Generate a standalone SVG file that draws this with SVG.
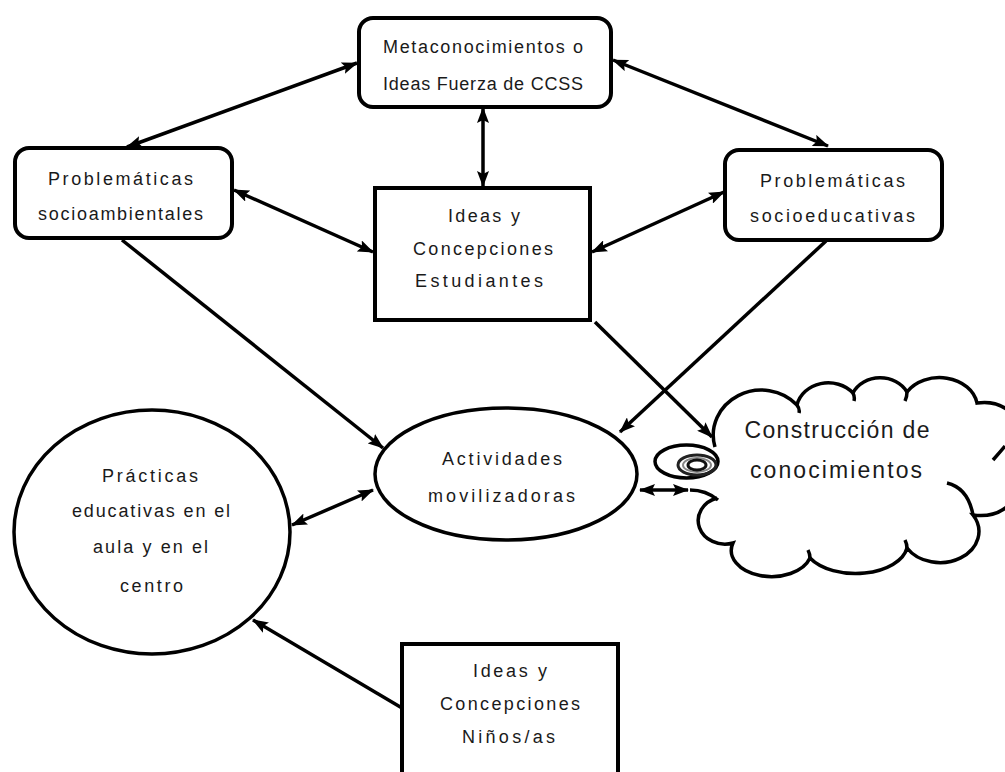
<svg xmlns="http://www.w3.org/2000/svg" width="1005" height="772" viewBox="0 0 1005 772">
<defs>
<style>
.box{fill:#fff;stroke:#000;stroke-width:4}
.shape{fill:#fff;stroke:#000;stroke-width:3.5}
.con{fill:none;stroke:#000;stroke-width:3.5}
.t{font-family:"Liberation Sans",Arial,sans-serif;font-size:18px;fill:#1a1a1a;text-anchor:middle}
.tc{font-family:"Liberation Sans",Arial,sans-serif;font-size:23px;fill:#1a1a1a;text-anchor:middle}
</style>
<marker id="ah" viewBox="0 0 16 12" markerWidth="16" markerHeight="12" refX="15" refY="6" orient="auto-start-reverse" markerUnits="userSpaceOnUse">
<path d="M0,0 L16,6 L0,12 L3,6 z" fill="#000"/>
</marker>
</defs>
<rect width="1005" height="772" fill="#fff"/>

<g id="cloud">
<path class="shape" d="M715,447 A48,45 0 0 1 797,405 A32,28 0 0 1 853,393 A30,26 0 0 1 907,392 A38,30 0 0 1 977,403 C1045,393 1045,525 973,515 A35,28 0 0 1 907,548 A52,30 0 0 1 810,558 A40,26 0 0 1 733,543 A25,22 0 0 1 717,498"/>
<path class="con" d="M797,405 Q800,409 799,413 M853,393 Q855,397 854,401 M907,392 Q907,397 905,401 M993,460 Q1000,452 1005,446 M947,483 Q968,488 973,515 M907,548 Q907,544 905,540 M810,558 Q810,554 808,550 M690,490 Q706,490 718,500"/>
<text class="tc" x="837" y="438" textLength="185">Construcción de</text>
<text class="tc" x="836" y="478" textLength="172">conocimientos</text>
<ellipse class="shape" cx="686.5" cy="461.5" rx="31.5" ry="16.5"/>
<ellipse cx="697" cy="465" rx="19" ry="10" fill="none" stroke="#222" stroke-width="3"/>
<ellipse cx="697" cy="465" rx="14" ry="7" fill="none" stroke="#888" stroke-width="2"/>
<ellipse cx="697" cy="465" rx="9" ry="5" fill="none" stroke="#111" stroke-width="3"/>
</g>

<g id="connectors">
<line class="con" x1="127" y1="147" x2="357" y2="63" marker-start="url(#ah)" marker-end="url(#ah)"/>
<line class="con" x1="613" y1="60" x2="828" y2="146" marker-start="url(#ah)" marker-end="url(#ah)"/>
<line class="con" x1="483" y1="108" x2="483" y2="186" marker-start="url(#ah)" marker-end="url(#ah)"/>
<line class="con" x1="234" y1="190" x2="373" y2="252" marker-start="url(#ah)" marker-end="url(#ah)"/>
<line class="con" x1="724" y1="192" x2="592" y2="252" marker-start="url(#ah)" marker-end="url(#ah)"/>
<line class="con" x1="122" y1="240" x2="383" y2="448" marker-end="url(#ah)"/>
<line class="con" x1="826" y1="241" x2="620" y2="432" marker-end="url(#ah)"/>
<line class="con" x1="595" y1="322" x2="712" y2="437" marker-end="url(#ah)"/>
<line class="con" x1="373" y1="490" x2="292" y2="525" marker-start="url(#ah)" marker-end="url(#ah)"/>
<line class="con" x1="640" y1="490" x2="688" y2="490" marker-start="url(#ah)" marker-end="url(#ah)"/>
<line class="con" x1="402" y1="708" x2="253" y2="620" marker-end="url(#ah)"/>
</g>

<g id="metaconocimientos">
<rect class="box" x="359" y="18" width="252" height="89" rx="14"/>
<text class="t" x="483" y="53" textLength="200">Metaconocimientos o</text>
<text class="t" x="483" y="90" textLength="200">Ideas Fuerza de CCSS</text>
</g>

<g id="socioambientales">
<rect class="box" x="15" y="148" width="217" height="90" rx="14"/>
<text class="t" x="120.5" y="185" textLength="145">Problemáticas</text>
<text class="t" x="120.5" y="220" textLength="165">socioambientales</text>
</g>

<g id="socioeducativas">
<rect class="box" x="725" y="150" width="217" height="90" rx="14"/>
<text class="t" x="832.5" y="187" textLength="145">Problemáticas</text>
<text class="t" x="832.5" y="222" textLength="165">socioeducativas</text>
</g>

<g id="estudiantes">
<rect class="box" x="375" y="188" width="215" height="132"/>
<text class="t" x="484" y="222" textLength="72">Ideas y</text>
<text class="t" x="483" y="255" textLength="140">Concepciones</text>
<text class="t" x="479" y="287" textLength="128">Estudiantes</text>
</g>

<g id="actividades">
<ellipse class="shape" cx="506" cy="474" rx="131" ry="66"/>
<text class="t" x="502" y="465" textLength="120">Actividades</text>
<text class="t" x="501.5" y="502" textLength="147">movilizadoras</text>
</g>

<g id="practicas">
<ellipse class="shape" cx="152" cy="532" rx="138" ry="122"/>
<text class="t" x="150" y="482" textLength="96">Prácticas</text>
<text class="t" x="151" y="517" textLength="158">educativas en el</text>
<text class="t" x="150.5" y="553" textLength="115">aula y en el</text>
<text class="t" x="151.5" y="592" textLength="63">centro</text>
</g>

<g id="ninos">
<rect class="box" x="402" y="644" width="216" height="140"/>
<text class="t" x="510" y="677" textLength="74">Ideas y</text>
<text class="t" x="510" y="710" textLength="140">Concepciones</text>
<text class="t" x="508.5" y="743" textLength="93">Niños/as</text>
</g>
</svg>
